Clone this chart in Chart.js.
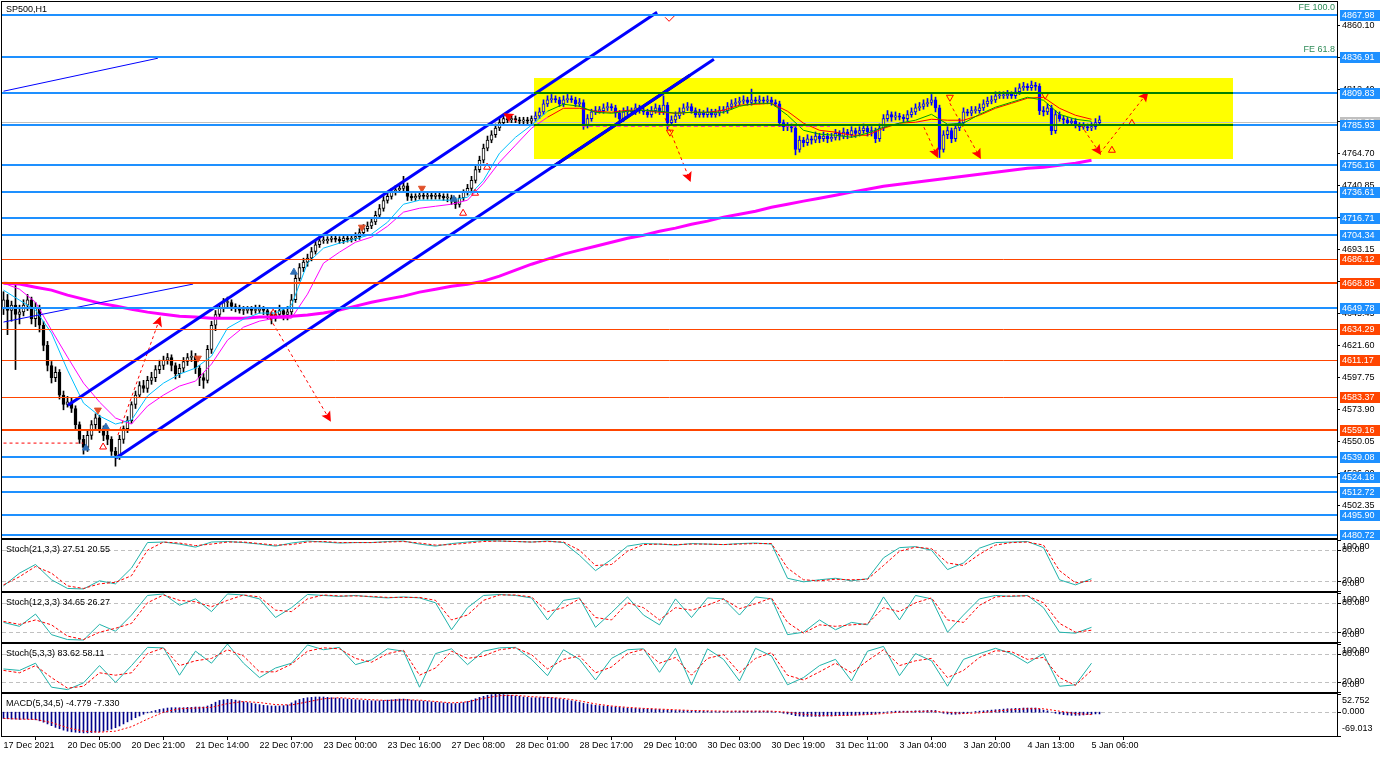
<!DOCTYPE html>
<html>
<head>
<meta charset="utf-8">
<title>SP500,H1</title>
<script src="https://cdn.jsdelivr.net/npm/chart.js@4.4.1/dist/chart.umd.min.js"></script>
<style>
  html, body { margin: 0; padding: 0; background: #fff; }
  body { position: relative; width: 1390px; height: 757px; overflow: hidden; }
  canvas { position: absolute; left: 0; }
</style>
</head>
<body>
<canvas id="mainChart" width="1390" height="540" style="top:0"></canvas>
<canvas id="stoch1Chart" width="1390" height="53" style="top:539px"></canvas>
<canvas id="stoch2Chart" width="1390" height="51" style="top:592px"></canvas>
<canvas id="stoch3Chart" width="1390" height="50" style="top:643px"></canvas>
<canvas id="macdChart" width="1390" height="64" style="top:693px"></canvas>
<script>
// ---- data ----
const timeLabels = ['17 Dec 2021', '20 Dec 05:00', '20 Dec 21:00', '21 Dec 14:00', '22 Dec 07:00',
  '23 Dec 00:00', '23 Dec 16:00', '27 Dec 08:00', '28 Dec 01:00', '28 Dec 17:00', '29 Dec 10:00',
  '30 Dec 03:00', '30 Dec 19:00', '31 Dec 11:00', '3 Jan 04:00', '3 Jan 20:00', '4 Jan 13:00', '5 Jan 06:00'];
const LABEL_EVERY = 16;   // bars between time labels
const SAMPLE = 4;         // indicator arrays are read every 4th bar

const opens = [4650,
  4656,4648,4652,4645,4647,4652,4656,4642,4650,4637, 4622,4607,4598,4602,4585,4578,4580,4575,4563,4552,
  4546,4555,4563,4568,4560,4555,4552,4543,4540,4552, 4560,4566,4578,4585,4592,4590,4596,4598,4604,4607,
  4611,4613,4607,4601,4605,4610,4613,4614,4605,4598, 4596,4619,4637,4645,4650,4654,4654,4651,4650,4648,
  4648,4649,4648,4648,4649,4648,4645,4642,4645,4648, 4645,4647,4656,4672,4680,4684,4687,4692,4697,4700,
  4700,4701,4702,4701,4700,4702,4701,4702,4703,4706, 4709,4711,4714,4719,4724,4730,4733,4736,4738,4739,
  4741,4733,4732,4733,4734,4733,4734,4733,4734,4733, 4732,4732,4730,4727,4732,4736,4739,4745,4753,4760,
  4769,4775,4779,4784,4788,4791,4790,4791,4790,4789, 4790,4789,4791,4793,4796,4802,4805,4806,4805,4802,
  4805,4806,4805,4802,4803,4786,4791,4796,4797,4797, 4799,4800,4799,4795,4791,4796,4797,4796,4799,4797,
  4796,4794,4797,4799,4796,4801,4788,4790,4793,4796, 4799,4800,4797,4794,4795,4794,4796,4794,4795,4797,
  4797,4800,4802,4803,4804,4805,4803,4805,4804,4805, 4804,4805,4803,4802,4788,4785,4785,4784,4768,4775,
  4773,4776,4775,4778,4776,4778,4776,4777,4780,4778, 4781,4779,4782,4780,4782,4784,4781,4782,4776,4784,
  4791,4794,4792,4793,4792,4791,4794,4796,4799,4800, 4802,4803,4805,4799,4768,4779,4782,4776,4784,4788,
  4796,4795,4797,4797,4799,4802,4804,4805,4808,4808, 4808,4809,4808,4811,4814,4815,4814,4816,4815,4797,
  4796,4799,4782,4794,4791,4790,4788,4789,4786,4785, 4785,4784,4785,4788];
const highs = [
  4662,4660,4655,4668,4652,4656,4660,4658,4654,4652, 4640,4625,4610,4606,4604,4588,4584,4583,4577,4565,
  4555,4558,4566,4571,4570,4562,4558,4554,4546,4555, 4562,4569,4580,4588,4595,4596,4599,4602,4607,4611,
  4614,4616,4615,4609,4608,4613,4616,4618,4616,4607, 4601,4622,4640,4648,4653,4657,4658,4656,4653,4652,
  4651,4651,4651,4652,4652,4651,4650,4647,4648,4652, 4650,4651,4660,4675,4683,4687,4690,4695,4700,4703,
  4703,4703,4704,4704,4703,4704,4704,4704,4706,4709, 4712,4714,4717,4722,4727,4733,4736,4739,4741,4742,
  4748,4743,4735,4735,4736,4736,4736,4736,4736,4736, 4735,4735,4734,4732,4734,4738,4742,4748,4756,4763,
  4772,4778,4782,4787,4791,4794,4793,4793,4793,4792, 4792,4792,4793,4796,4799,4805,4808,4809,4808,4807,
  4808,4809,4808,4807,4806,4805,4794,4798,4800,4800, 4802,4803,4802,4801,4797,4799,4800,4799,4802,4801,
  4799,4798,4800,4802,4801,4808,4803,4793,4796,4799, 4802,4803,4802,4799,4798,4797,4799,4798,4798,4800,
  4800,4803,4805,4806,4807,4808,4807,4813,4807,4808, 4807,4808,4807,4805,4804,4790,4788,4787,4786,4778,
  4777,4779,4778,4781,4780,4781,4780,4780,4783,4782, 4784,4783,4785,4784,4785,4787,4786,4785,4784,4787,
  4794,4797,4796,4796,4795,4794,4797,4799,4802,4803, 4805,4806,4809,4807,4801,4782,4785,4784,4787,4791,
  4799,4798,4800,4800,4802,4805,4807,4808,4811,4811, 4811,4812,4811,4814,4817,4818,4817,4819,4818,4817,
  4800,4802,4801,4797,4796,4793,4792,4791,4791,4788, 4788,4787,4788,4791,4793];
const lows = [
  4645,4630,4640,4604,4638,4644,4648,4638,4636,4632, 4618,4603,4594,4595,4582,4574,4576,4572,4559,4549,
  4541,4543,4552,4560,4557,4551,4548,4540,4532,4537, 4549,4557,4564,4575,4583,4587,4587,4593,4595,4601,
  4604,4608,4603,4597,4598,4602,4607,4610,4601,4592, 4590,4594,4616,4633,4642,4647,4650,4648,4647,4646,
  4645,4646,4645,4646,4646,4645,4642,4638,4640,4643, 4641,4641,4644,4654,4670,4677,4681,4685,4690,4695,
  4698,4698,4699,4699,4698,4698,4699,4699,4700,4701, 4704,4707,4709,4712,4717,4722,4728,4731,4734,4736,
  4737,4730,4730,4730,4731,4731,4731,4731,4731,4731, 4730,4729,4727,4724,4725,4730,4734,4737,4743,4751,
  4758,4767,4773,4777,4782,4786,4788,4788,4788,4787, 4787,4787,4787,4789,4791,4794,4800,4803,4803,4800,
  4800,4803,4803,4800,4800,4783,4784,4789,4794,4795, 4795,4797,4797,4792,4788,4789,4794,4794,4794,4795,
  4794,4792,4792,4795,4794,4794,4783,4786,4788,4791, 4794,4797,4795,4792,4792,4792,4792,4792,4792,4793,
  4795,4795,4798,4800,4801,4802,4801,4801,4802,4802, 4802,4802,4801,4800,4785,4782,4782,4781,4764,4766,
  4770,4771,4772,4773,4773,4774,4773,4774,4775,4775, 4776,4776,4777,4777,4778,4780,4778,4778,4773,4774,
  4782,4789,4789,4790,4790,4788,4789,4792,4794,4797, 4798,4800,4801,4796,4762,4766,4776,4773,4774,4782,
  4786,4793,4793,4795,4795,4797,4800,4802,4803,4806, 4806,4806,4806,4806,4809,4812,4812,4812,4812,4794,
  4793,4794,4779,4780,4789,4787,4786,4786,4784,4782, 4783,4782,4782,4783,4786];
const closes = [
  4656,4648,4652,4645,4647,4652,4656,4642,4650,4637, 4622,4607,4598,4602,4585,4578,4580,4575,4563,4552,
  4546,4555,4563,4568,4560,4555,4552,4543,4540,4552, 4560,4566,4578,4585,4592,4590,4596,4598,4604,4607,
  4611,4613,4607,4601,4605,4610,4613,4614,4605,4598, 4596,4619,4637,4645,4650,4654,4654,4651,4650,4648,
  4648,4649,4648,4648,4649,4648,4645,4642,4645,4648, 4645,4647,4656,4672,4680,4684,4687,4692,4697,4700,
  4700,4701,4702,4701,4700,4702,4701,4702,4703,4706, 4709,4711,4714,4719,4724,4730,4733,4736,4738,4739,
  4741,4733,4732,4733,4734,4733,4734,4733,4734,4733, 4732,4732,4730,4727,4732,4736,4739,4745,4753,4760,
  4769,4775,4779,4784,4788,4791,4790,4791,4790,4789, 4790,4789,4791,4793,4796,4802,4805,4806,4805,4802,
  4805,4806,4805,4802,4803,4786,4791,4796,4797,4797, 4799,4800,4799,4795,4791,4796,4797,4796,4799,4797,
  4796,4794,4797,4799,4796,4801,4788,4790,4793,4796, 4799,4800,4797,4794,4795,4794,4796,4794,4795,4797,
  4797,4800,4802,4803,4804,4805,4803,4805,4804,4805, 4804,4805,4803,4802,4788,4785,4785,4784,4768,4775,
  4773,4776,4775,4778,4776,4778,4776,4777,4780,4778, 4781,4779,4782,4780,4782,4784,4781,4782,4776,4784,
  4791,4794,4792,4793,4792,4791,4794,4796,4799,4800, 4802,4803,4805,4799,4768,4779,4782,4776,4784,4788,
  4796,4795,4797,4797,4799,4802,4804,4805,4808,4808, 4808,4809,4808,4811,4814,4815,4814,4816,4815,4797,
  4796,4799,4782,4794,4791,4790,4788,4789,4786,4785, 4785,4784,4785,4788,4790];

// moving averages, one value every 4th bar
const maFast = [4663.2,4655.7,4648.3,4631.2,4603.6,4579.0,4569.4,4563.4,4566.4,4584.3,4593.9,4600.6,4605.1,4614.0,
  4634.9,4641.6,4646.1,4646.1,4652.0,4683.3,4694.5,4698.2,4701.2,4704.9,4713.8,4727.2,4730.2,4730.2,4730.2,4732.4,
  4745.1,4765.2,4777.1,4786.1,4796.5,4801.7,4800.2,4795.7,4795.0,4796.5,4797.2,4796.5,4795.0,4795.7,4795.7,4795.7,
  4800.2,4802.4,4802.4,4793.5,4782.3,4779.4,4778.6,4777.1,4780.1,4784.6,4787.6,4789.8,4794.2,4786.8,4787.6,4794.2,
  4799.5,4803.2,4806.9,4804.7,4794.2,4790.5,4789.0];
const maSlow = [4668.4,4663.9,4654.2,4633.4,4613.3,4593.9,4579.8,4567.9,4563.4,4576.8,4585.0,4591.7,4595.4,4608.1,
  4625.9,4635.6,4640.1,4642.3,4642.3,4660.2,4683.3,4691.5,4698.9,4702.7,4710.8,4721.3,4724.2,4725.7,4727.2,4730.2,
  4742.9,4758.5,4771.2,4783.8,4792.0,4798.7,4798.7,4796.5,4795.7,4797.2,4797.2,4795.7,4795.0,4795.7,4795.7,4797.2,
  4801.0,4801.7,4802.4,4796.5,4787.6,4782.3,4780.9,4778.6,4778.6,4783.8,4787.6,4788.3,4790.5,4789.8,4789.8,4793.5,
  4798.7,4802.4,4806.2,4806.9,4798.7,4793.5,4790.5];
const ma200 = [4668.4,4667.7,4665.4,4663.2,4659.5,4656.5,4653.5,4651.3,4649.0,4646.8,4645.3,4643.8,4643.1,4642.3,
  4642.3,4642.3,4643.1,4643.1,4643.8,4644.6,4646.1,4648.3,4651.3,4654.2,4656.5,4658.7,4661.7,4663.9,4666.1,4667.6,
  4669.9,4673.6,4678.1,4682.5,4686.3,4690.0,4693.0,4695.9,4698.9,4701.9,4704.1,4707.1,4709.4,4712.3,4714.6,4717.6,
  4719.8,4722.0,4725.0,4727.2,4729.5,4731.7,4733.9,4736.2,4738.4,4740.6,4742.1,4743.6,4745.1,4746.6,4748.1,4749.6,
  4751.1,4752.6,4754.0,4754.8,4756.3,4757.8,4760.0];

// horizontal levels and drawn objects (bar index, price)
const priceTicks = [4502.35,4526.20,4550.05,4573.90,4597.75,4621.60,4645.45,4669.30,4693.15,4717.00,4740.85,
  4764.70,4788.55,4812.40,4836.25,4860.10];
const blueLevels = [4867.98,4836.91,4809.83,4785.93,4756.16,4736.61,4716.71,4704.34,4649.78,4539.08,4524.18,
  4512.72,4495.90,4480.72];
const orangeLevels = [4686.12,4634.29,4611.17,4583.37];
const orangeBoldLevels = [4668.85,4559.16];
const bidPrice = 4788.36;
const boxBars = [132.6, 307.4];
const boxPrices = [4760.7, 4821.6];
const fiboLabels = [['FE 100.0', 4867.98], ['FE 61.8', 4836.91]];
const channelUpper = [[16.1, 4577.5], [163.4, 4870.2]];
const channelLower = [[28.1, 4538.1], [177.6, 4835.2]];
const channelBlack = [[137.1, 4754.8], [171.6, 4823.3]];
const thinTrends = [[[0, 4811.4], [38.6, 4836.0]], [[0, 4639.4], [47.4, 4667.7]]];
const arrowPaths = [
  [[28.6, 4555.2], [39.1, 4642.3]],
  [[66.6, 4642.3], [81.6, 4566.4]],
  [[165.4, 4791.3], [171.6, 4745.1]],
  [[230.1, 4784.6], [233.4, 4763.0]],
  [[236.6, 4802.4], [244.1, 4762.2]],
  [[269.4, 4786.0], [274.1, 4765.2]],
  [[274.1, 4765.2], [285.9, 4809.9]],
  [[128.4, 4789.0], [125.4, 4794.3]]];
const dashedLevelLeft = [[0, 4549.2], [19.9, 4549.2]];
const pinkDashed = [[144.6, 4785.3], [206.6, 4785.3]];
const checkMark = [[165.4, 4866.5], [166.4, 4863.5], [168.1, 4868.7]];
const blueUpMarks = [[20.6, 4545.5], [25.6, 4561.1], [72.6, 4676.6], [112.6, 4730.9]];
const orangeDownMarks = [[23.6, 4573.8], [48.6, 4612.5], [89.6, 4710.1], [104.6, 4739.1]];
const hollowUpMarks = [[24.9, 4546.3], [67.4, 4646.1], [114.9, 4720.5], [117.9, 4735.4], [120.9, 4754.8],
  [277.1, 4767.4], [282.1, 4787.5]];
const hollowDownMarks = [[166.6, 4780.9], [236.6, 4806.9], [260.4, 4808.4]];

// oscillators, one value every 4th bar
const stoch1Main = [10,35,52,22,5,4,20,14,45,95,96,92,86,96,97,95,92,88,94,98,96,94,95,95,97,98,92,88,93,96,99,98,97,96,98,95,70,40,62,88,93,92,90,93,92,91,93,94,92,25,18,22,25,20,24,65,85,87,80,42,55,84,95,96,97,85,22,12,24];
const stoch1Signal = [12,28,48,35,10,5,14,17,30,80,96,94,89,92,96,96,93,90,91,96,97,95,95,95,96,97,94,90,91,94,97,98,97,96,97,96,80,50,52,78,91,92,91,92,92,91,92,93,93,45,22,20,23,22,23,50,78,86,83,55,50,72,90,95,96,90,40,16,20];
const stoch2Main = [40,32,57,15,5,4,36,22,55,95,98,75,88,62,98,96,88,50,70,97,95,93,95,92,90,92,90,80,25,70,95,97,95,90,45,85,90,30,60,92,55,35,88,50,90,88,55,92,88,15,20,45,25,40,35,92,45,95,88,20,55,88,95,93,95,70,20,18,30];
const stoch2Signal = [42,36,45,35,12,5,20,28,38,80,96,85,82,72,85,96,92,65,62,88,96,94,94,93,91,91,91,85,45,55,85,96,96,92,62,70,88,50,45,80,70,45,70,65,75,88,68,78,90,40,18,35,32,35,37,70,62,80,90,45,40,75,92,94,94,80,38,20,24];
const stoch3Main = [48,45,60,10,5,19,55,20,55,93,92,35,85,60,100,60,30,50,60,98,88,93,57,67,90,85,10,80,90,57,85,92,93,68,34,88,68,25,70,88,90,41,91,15,90,68,23,91,75,15,30,55,68,23,85,95,34,80,65,12,68,80,91,80,60,80,12,15,60];
const stoch3Signal = [45,40,55,30,8,12,40,35,40,80,92,55,65,70,88,75,42,42,58,85,92,90,70,62,80,87,35,50,85,70,75,88,92,78,48,68,75,40,52,80,89,60,72,35,70,78,40,70,82,35,25,42,60,40,65,88,55,65,70,30,45,72,86,84,68,72,30,14,45];
const stochTicks = [100, 80, 20, 0];
const stochLevels = [80, 20];

const macdHist = [
  -18,-19,-20,-20,-21,-20,-20,-21,-22, -25,-29,-34,-39, -44,-48,-52,-55,-57,
  -58,-59,-60,-60,-59,-58,-57,-55,-52, -49,-45,-40,-34,-28,-22,-16, -11,-6,-2,2,5,
  8,10,12,13,13,13, 13,14,14,15,15,15, 18,23,29,34,36, 37,37,35,33,30,28,26, 24,22,20,19,18,18,18,
  19,21,27,33, 37,40,42,43,44,44,44, 43,42,41,40,39,38,37,36,35,34, 34,33,33,33,34,35,36,37,38,38,
  37,35,34,33,32,31,30,29,28,27, 26,25,25,26,28,31,35, 39,43,46,49,51,52,52,51,
  50,49,47,46,44,43,42,42,42,43, 43,42,41,39,37,35,33,31,29,26, 24,22,20,19,18,17,16,15,14,13,
  12,11,11,10,10,9,9,8,8,7,6,6,5,5,5, 4,4,4,3,3,3,2,2,2,2,2,2,3,3,3,3,3,3,3,3, 3,2,1,0,-3,-5,-7,
  -10,-11,-12,-12,-12,-12,-12,-11,-11,-11,-10,-10,-9,-9,-8,-8,-7,-7,-6,-6,-5,
  -3,-1,1,2,3,3,3,3,3,4,4,4,5,5,5, 0,-3,-5,-6,-6,-5,-4,
  -2,0,2,3,4,5,6,7,8,9,10,10,11,11,12,12,12,12, 9,6,4,0,-3,-5,-7,-8,-9,-9,-9,-8,-7,-6,-5,-5];
const macdSignal = [-18,-20,-21,-30,-45,-55,-58,-55,-42,-20,0,10,12,14,25,31,28,22,21,30,39,42,39,36,34,36,35,31,27,30,40,48,49,45,43,40,33,24,18,14,11,9,7,5,4,3,3,3,3,0,-6,-10,-10,-9,-7,-4,0,2,3,0,-4,-2,3,7,10,10,3,-4,-7];
const macdTicks = [52.752, 0, -69.013];

// ---- drawing ----
const FONT_FAMILY = "'Liberation Sans', Arial, sans-serif";
const FONT = '9px ' + FONT_FAMILY;
Chart.defaults.font.family = FONT_FAMILY;
Chart.defaults.font.size = 9;
Chart.defaults.color = '#000';

const X_MIN = -0.375, X_MAX = 333.375, AXIS_W = 53;
const inBox = i => i >= boxBars[0] && i <= boxBars[1];
const sampled = arr => arr.map((v, k) => ({ x: k * SAMPLE, y: v }));
const pts = arr => arr.map(p => ({ x: p[0], y: p[1] }));

function xAxis(show) {
  return {
    type: 'linear', min: X_MIN, max: X_MAX, bounds: 'data', offset: false, display: show,
    afterBuildTicks: s => { s.ticks = timeLabels.map((t, k) => ({ value: k * LABEL_EVERY })); },
    afterFit: s => { s.height = show ? 21 : 0; s.paddingLeft = 0; s.paddingRight = 0; },
    ticks: { autoSkip: false, maxRotation: 0, minRotation: 0, align: 'start', padding: 0,
      callback: (v, i) => timeLabels[i] },
    grid: { drawOnChartArea: false, drawTicks: true, tickLength: 4, color: '#000' },
    border: { display: false }
  };
}
function plainY(min, max) {
  return {
    position: 'right', min, max, bounds: 'data',
    afterFit: s => { s.width = AXIS_W; s.paddingTop = 0; s.paddingBottom = 0; },
    ticks: { display: false }, grid: { display: false }, border: { display: false }
  };
}
function hline(ctx, py, color, w, x0, x1) {
  const y = Math.round(py) + (w % 2 ? 0.5 : 0);
  ctx.strokeStyle = color; ctx.lineWidth = w;
  ctx.beginPath(); ctx.moveTo(x0, y); ctx.lineTo(x1, y); ctx.stroke();
}
function tag(ctx, a, py, text, bg) {
  const cy = Math.round(py);
  ctx.fillStyle = bg;
  ctx.fillRect(a.right + 3, cy - 5, 40, 11);
  ctx.fillStyle = '#fff';
  ctx.fillText(text, a.right + 5, cy + 0.5);
}

const framePlugin = {
  id: 'frame',
  afterDraw(chart) {
    const { ctx, chartArea: a } = chart;
    ctx.save();
    ctx.strokeStyle = '#000'; ctx.lineWidth = 1;
    ctx.strokeRect(a.left - 0.5, a.top - 0.5, a.right - a.left + 1, a.bottom - a.top + 1);
    ctx.restore();
  }
};

const panelPlugin = {
  id: 'panel',
  beforeDatasetsDraw(chart, args, opts) {
    const { ctx, chartArea: a, scales: { y } } = chart;
    ctx.save();
    ctx.setLineDash([4, 3]);
    (opts.levels || []).forEach(v => hline(ctx, y.getPixelForValue(v), '#C0C0C0', 1, a.left, a.right));
    ctx.restore();
  },
  afterDraw(chart, args, opts) {
    const { ctx, chartArea: a, scales: { y } } = chart;
    ctx.save();
    ctx.font = FONT; ctx.textBaseline = 'middle'; ctx.textAlign = 'left';
    ctx.fillStyle = '#000'; ctx.strokeStyle = '#000'; ctx.lineWidth = 1;
    if (opts.title) ctx.fillText(opts.title, a.left + 4, a.top + 9.5);
    (opts.ticks || []).forEach(v => {
      const py = Math.round(y.getPixelForValue(v));
      ctx.beginPath(); ctx.moveTo(a.right + 1, py + 0.5); ctx.lineTo(a.right + 4, py + 0.5); ctx.stroke();
      const ty = Math.min(Math.max(py, a.top + 7), a.bottom - 7);
      ctx.fillText(v.toFixed(opts.digits), a.right + 5, ty);
    });
    ctx.restore();
  }
};

const mainPlugin = {
  id: 'mainDecor',
  beforeDatasetsDraw(chart) {
    const { ctx, chartArea: a, scales: { x, y } } = chart;
    ctx.save();
    const bx0 = Math.round(x.getPixelForValue(boxBars[0])), bx1 = Math.round(x.getPixelForValue(boxBars[1]));
    const by0 = Math.round(y.getPixelForValue(boxPrices[1])), by1 = Math.round(y.getPixelForValue(boxPrices[0]));
    ctx.fillStyle = '#FFFF00';
    ctx.fillRect(bx0, by0, bx1 - bx0, by1 - by0);
    hline(ctx, y.getPixelForValue(bidPrice), '#C0C0C0', 1, a.left, a.right);
    ctx.restore();
  },
  afterDatasetsDraw(chart) {
    const { ctx, chartArea: a, scales: { x, y } } = chart;
    ctx.save();
    // arrow heads at the end of each dashed arrow
    ctx.fillStyle = '#FF0000';
    arrowPaths.forEach(p => {
      const [x0, y0] = [x.getPixelForValue(p[0][0]), y.getPixelForValue(p[0][1])];
      const [x1, y1] = [x.getPixelForValue(p[1][0]), y.getPixelForValue(p[1][1])];
      const ang = Math.atan2(y1 - y0, x1 - x0);
      ctx.save();
      ctx.translate(x1, y1); ctx.rotate(ang);
      ctx.beginPath(); ctx.moveTo(2, 0); ctx.lineTo(-8, -5); ctx.lineTo(-6, 0); ctx.lineTo(-8, 5); ctx.closePath();
      ctx.fill();
      ctx.restore();
    });
    const bx0 = Math.round(x.getPixelForValue(boxBars[0])), bx1 = Math.round(x.getPixelForValue(boxBars[1]));
    orangeLevels.forEach(v => hline(ctx, y.getPixelForValue(v), '#FF4500', 1, a.left, a.right));
    orangeBoldLevels.forEach(v => hline(ctx, y.getPixelForValue(v), '#FF4500', 2, a.left, a.right));
    blueLevels.forEach(v => {
      hline(ctx, y.getPixelForValue(v), '#1E90FF', 2, a.left, a.right);
      if (v > boxPrices[0] && v < boxPrices[1]) hline(ctx, y.getPixelForValue(v), '#008000', 2, bx0, bx1);
    });
    ctx.restore();
  },
  afterDraw(chart) {
    const { ctx, chartArea: a, scales: { y } } = chart;
    ctx.save();
    ctx.font = FONT; ctx.textBaseline = 'middle'; ctx.textAlign = 'left';
    tag(ctx, a, y.getPixelForValue(bidPrice), bidPrice.toFixed(2), '#C0C0C0');
    orangeLevels.concat(orangeBoldLevels).forEach(v => tag(ctx, a, y.getPixelForValue(v), v.toFixed(2), '#FF4500'));
    blueLevels.forEach(v => tag(ctx, a, y.getPixelForValue(v), v.toFixed(2), '#1E90FF'));
    ctx.fillStyle = '#000';
    ctx.fillText('SP500,H1', a.left + 4, a.top + 7.5);
    ctx.fillStyle = '#2E8B57'; ctx.textAlign = 'right';
    fiboLabels.forEach(([t, v]) => ctx.fillText(t, a.right - 2, Math.round(y.getPixelForValue(v)) - 7));
    ctx.restore();
  }
};

function baseOptions(padding, scales, plugins) {
  return {
    responsive: false, maintainAspectRatio: false, animation: false, devicePixelRatio: 1, events: [],
    layout: { padding, autoPadding: false },
    scales,
    plugins: Object.assign({ legend: { display: false }, tooltip: { enabled: false } }, plugins)
  };
}
function lineSet(data, color, width, order, extra) {
  return Object.assign({ type: 'line', data, borderColor: color, borderWidth: width, pointRadius: 0,
    tension: 0, fill: false, order }, extra || {});
}
function markSet(data, fill, stroke, rotation) {
  return { type: 'line', data: pts(data), showLine: false, order: 0, pointStyle: 'triangle', pointRadius: 4,
    pointRotation: rotation, pointBackgroundColor: fill, pointBorderColor: stroke, pointBorderWidth: 1 };
}

// main price window
const candleColor = i => {
  const up = closes[i] >= opens[i];
  if (inBox(i)) return up ? '#FFFF00' : '#0000FF';
  return up ? '#FFFFFF' : '#000000';
};
const edgeColor = i => (inBox(i) ? '#0000FF' : '#000000');

const mainDatasets = [
  lineSet(pts(channelUpper), '#0000FF', 3, 0),
  lineSet(pts(channelLower), '#0000FF', 3, 0),
  lineSet(pts(channelBlack), '#000000', 3, 0),
  ...thinTrends.map(t => lineSet(pts(t), '#0000FF', 1, 0)),
  ...arrowPaths.map(p => lineSet(pts(p), '#FF0000', 1, 0, { borderDash: [3, 3] })),
  lineSet(pts(dashedLevelLeft), '#FF0000', 1, 0, { borderDash: [3, 3] }),
  lineSet(pts(pinkDashed), '#FF00FF', 1, 0, { borderDash: [4, 3] }),
  lineSet(pts(checkMark), '#FF0000', 1, 0),
  markSet(blueUpMarks, '#2F6FB5', '#2F6FB5', 0),
  markSet(orangeDownMarks, '#E0502A', '#E0502A', 180),
  markSet(hollowUpMarks, 'rgba(255,255,255,0)', '#FF0000', 0),
  markSet(hollowDownMarks, 'rgba(255,255,255,0)', '#FF0000', 180),
  lineSet(sampled(maFast), '#00BFFF', 1, 1, {
    segment: { borderColor: c => (inBox(c.p0.parsed.x) ? '#00A000' : '#00BFFF') } }),
  lineSet(sampled(maSlow), '#FF00FF', 1, 1, {
    segment: { borderColor: c => (inBox(c.p0.parsed.x) ? '#FF0000' : '#FF00FF') } }),
  lineSet(sampled(ma200), '#FF00FF', 3, 2),
  { type: 'bar', order: 3, grouped: false, barThickness: 3, minBarLength: 1, borderWidth: 1, borderSkipped: false,
    data: opens.map((o, i) => ({ x: i, y: [o, closes[i]] })),
    backgroundColor: c => candleColor(c.dataIndex), borderColor: c => edgeColor(c.dataIndex) },
  { type: 'bar', order: 4, grouped: false, barThickness: 1, borderWidth: 0,
    data: highs.map((h, i) => ({ x: i, y: [lows[i], h] })),
    backgroundColor: c => edgeColor(c.dataIndex) }
];

new Chart(document.getElementById('mainChart'), {
  type: 'line',
  data: { datasets: mainDatasets },
  options: baseOptions({ top: 2, bottom: 2, left: 2, right: 0 }, {
    x: xAxis(false),
    y: {
      position: 'right', min: 4478.49, max: 4877.89, bounds: 'data',
      afterBuildTicks: s => { s.ticks = priceTicks.map(v => ({ value: v })); },
      afterFit: s => { s.width = AXIS_W; s.paddingTop = 0; s.paddingBottom = 0; },
      ticks: { autoSkip: false, padding: 2, callback: v => v.toFixed(2) },
      grid: { drawOnChartArea: false, drawTicks: true, tickLength: 3, color: '#000' },
      border: { display: false }
    }
  }, {}),
  plugins: [mainPlugin, framePlugin]
});

function stochChart(id, title, mainVals, signalVals) {
  return new Chart(document.getElementById(id), {
    type: 'line',
    data: { datasets: [
      lineSet(sampled(signalVals), '#FF0000', 1, 0, { borderDash: [3, 2] }),
      lineSet(sampled(mainVals), '#20B2AA', 1, 1)
    ] },
    options: baseOptions({ top: 1, bottom: 1, left: 2, right: 0 },
      { x: xAxis(false), y: plainY(0, 100) },
      { panel: { title, levels: stochLevels, ticks: stochTicks, digits: 2 } }),
    plugins: [panelPlugin, framePlugin]
  });
}
stochChart('stoch1Chart', 'Stoch(21,3,3) 27.51 20.55', stoch1Main, stoch1Signal);
stochChart('stoch2Chart', 'Stoch(12,3,3) 34.65 26.27', stoch2Main, stoch2Signal);
stochChart('stoch3Chart', 'Stoch(5,3,3) 83.62 58.11', stoch3Main, stoch3Signal);

new Chart(document.getElementById('macdChart'), {
  type: 'line',
  data: { datasets: [
    lineSet(sampled(macdSignal), '#FF0000', 1, 0, { borderDash: [2, 2] }),
    { type: 'bar', order: 1, grouped: false, barThickness: 1, borderWidth: 0, backgroundColor: '#00008B',
      data: macdHist.map((v, i) => ({ x: i, y: v })) }
  ] },
  options: baseOptions({ top: 1, bottom: 0, left: 2, right: 0 },
    { x: xAxis(true), y: plainY(macdTicks[2], macdTicks[0]) },
    { panel: { title: 'MACD(5,34,5) -4.779 -7.330', levels: [0], ticks: macdTicks, digits: 3 } }),
  plugins: [panelPlugin, framePlugin]
});
</script>
</body>
</html>
